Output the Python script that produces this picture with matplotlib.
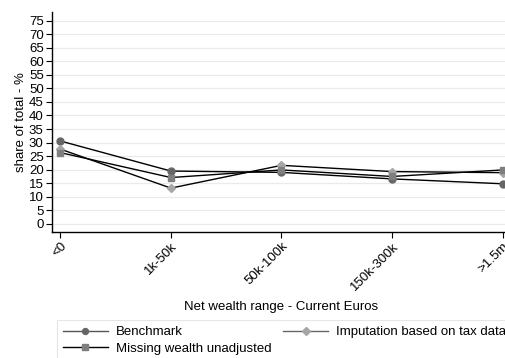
import matplotlib
matplotlib.use("Agg")
import matplotlib.pyplot as plt
import numpy as np

plt.rcParams['font.family'] = ['Liberation Sans', 'DejaVu Sans']

categories = ["<0", "1k-50k", "50k-100k", "150k-300k", ">1.5m"]
benchmark = [30.6, 19.5, 19.0, 16.6, 14.8]
imputation = [27.6, 13.2, 21.6, 19.3, 18.9]
missing = [26.3, 17.1, 19.9, 17.5, 19.9]
yticks = list(range(0, 80, 5))

FS = 9.5
fig = plt.figure(figsize=(5.06, 3.58), dpi=100)
W, H = 506, 358
left, right, top, bottom = 52, 511, 12, 232
ax = fig.add_axes([left / W, 1 - bottom / H, (right - left) / W, (bottom - top) / H])

x = np.arange(len(categories))
l1, = ax.plot(x, benchmark, color='black', lw=1.0, marker='o', ms=5,
              mfc='#666666', mec='#666666', label='Benchmark', zorder=3)
l2, = ax.plot(x, imputation, color='black', lw=1.0, marker='D', ms=4.5,
              mfc='#a6a6a6', mec='#a6a6a6', label='Imputation based on tax data', zorder=3)
l3, = ax.plot(x, missing, color='black', lw=1.0, marker='s', ms=5,
              mfc='#7f7f7f', mec='#7f7f7f', label='Missing wealth unadjusted', zorder=3)

ax.set_xlim(-0.075, 4.075)
ax.set_ylim(-3.0, 78.2)
ax.set_yticks(yticks)
ax.set_yticklabels([str(t) for t in yticks], fontsize=FS)
ax.set_xticks(x)
ax.set_xticklabels(categories, rotation=45, ha='right', rotation_mode='anchor', fontsize=FS)
ax.tick_params(axis='both', length=4, width=0.8, color='black', pad=2)
ax.grid(axis='y', color='#eaeaea', lw=0.9, zorder=0)
ax.set_axisbelow(True)
for s in ['top', 'right']:
    ax.spines[s].set_visible(False)
for s in ['left', 'bottom']:
    ax.spines[s].set_linewidth(1.0)

ax.set_ylabel('share of total - %', fontsize=FS, labelpad=1)
ax.set_xlabel('Net wealth range - Current Euros', fontsize=FS, labelpad=6)

leg = fig.legend([l1, l3, l2],
                 ['Benchmark', 'Missing wealth unadjusted', 'Imputation based on tax data'],
                 ncol=2, loc='upper left', bbox_to_anchor=(57 / W, 1 - 320 / H),
                 fontsize=FS, frameon=True, fancybox=False, edgecolor='#e0e0e0',
                 handlelength=3.4, handletextpad=0.6, columnspacing=0.9,
                 labelspacing=0.35, borderpad=0.45, borderaxespad=0, markerscale=0.85)
leg.get_frame().set_linewidth(0.8)
leg_colors = ['#555555', 'black', '#666666']
for ln, c in zip(leg.get_lines(), leg_colors):
    ln.set_color(c)

fig.savefig('out.png', dpi=100)
